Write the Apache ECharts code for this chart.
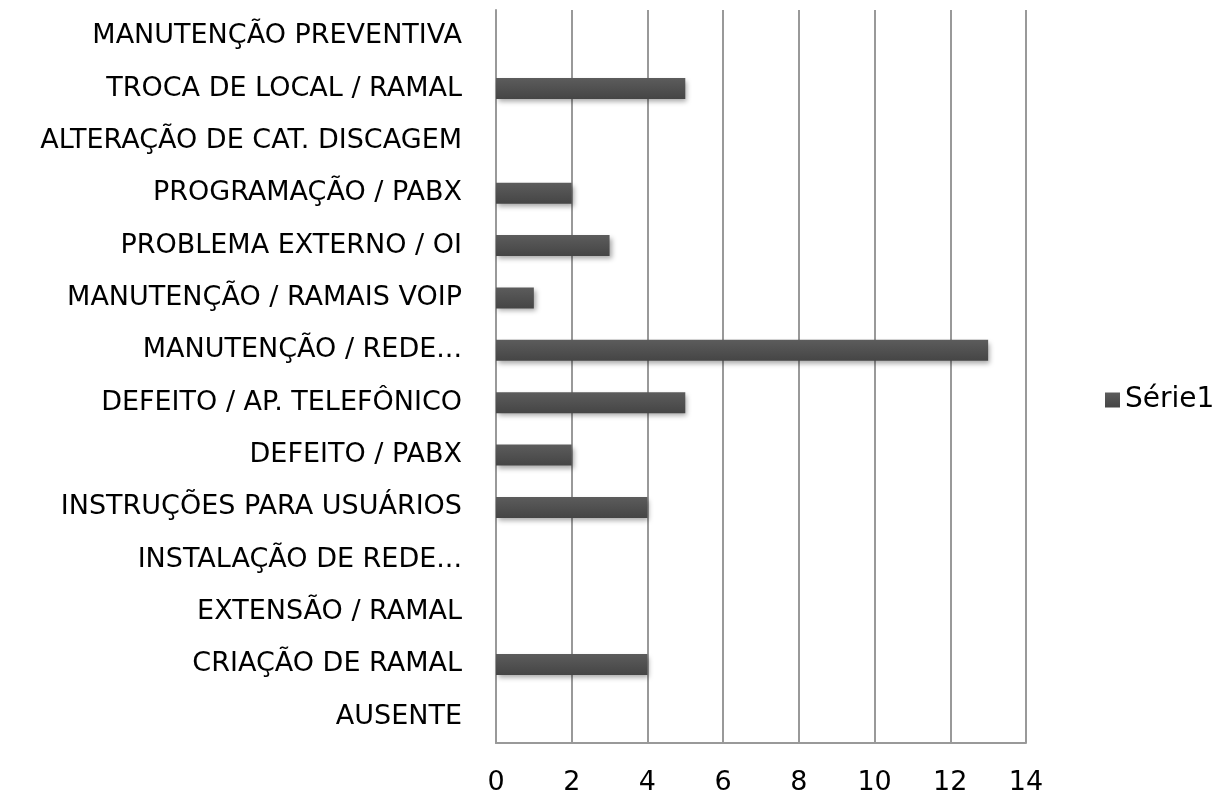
<!DOCTYPE html>
<html>
<head>
<meta charset="utf-8">
<script src="https://cdn.jsdelivr.net/npm/echarts@6/dist/echarts.min.js"></script>
<style>
  html, body { margin: 0; padding: 0; background: #fff; }
  #chart { width: 1226px; height: 798px; }
</style>
</head>
<body>
<div id="chart"></div>
<script>
  // categories bottom -> top, as in the picture
  var categories = [
    'AUSENTE',
    'CRIAÇÃO DE RAMAL',
    'EXTENSÃO / RAMAL',
    'INSTALAÇÃO DE REDE...',
    'INSTRUÇÕES PARA USUÁRIOS',
    'DEFEITO / PABX',
    'DEFEITO / AP. TELEFÔNICO',
    'MANUTENÇÃO / REDE...',
    'MANUTENÇÃO / RAMAIS VOIP',
    'PROBLEMA EXTERNO / OI',
    'PROGRAMAÇÃO / PABX',
    'ALTERAÇÃO DE CAT. DISCAGEM',
    'TROCA DE LOCAL / RAMAL',
    'MANUTENÇÃO PREVENTIVA'
  ];
  var serie1 = [0, 4, 0, 0, 4, 2, 5, 13, 1, 3, 2, 0, 5, 0];
  var seriesName = 'Série1';

  var chart = echarts.init(document.getElementById('chart'));
  var font = '"DejaVu Sans", "Open Sans", sans-serif';
  var barColor = new echarts.graphic.LinearGradient(0, 0, 0, 1, [
    { offset: 0, color: '#5c5c5c' },
    { offset: 1, color: '#454545' }
  ]);

  chart.setOption({
    animation: false,
    textStyle: { fontFamily: font },
    legend: {
      data: [{ name: seriesName, icon: 'rect' }],
      orient: 'vertical',
      left: 1100,
      top: 381,
      itemWidth: 15,
      itemHeight: 15,
      itemGap: 5,
      textStyle: { fontSize: 28, color: '#000', fontFamily: font }
    },
    grid: { left: 496, right: 200, top: 10, bottom: 55, containLabel: false },
    xAxis: {
      type: 'value',
      min: 0,
      max: 14,
      interval: 2,
      axisLine: { show: true, lineStyle: { color: '#999', width: 2 } },
      axisTick: { show: false },
      axisLabel: { fontSize: 27, color: '#000', margin: 26 },
      splitLine: { show: true, lineStyle: { color: '#999', width: 2 } }
    },
    yAxis: {
      type: 'category',
      data: categories,
      axisLine: { show: true, lineStyle: { color: '#999', width: 2 } },
      axisTick: { show: false },
      axisLabel: { fontSize: 27, color: '#000', margin: 34, interval: 0 }
    },
    series: [{
      name: seriesName,
      type: 'bar',
      data: serie1,
      barWidth: 21,
      itemStyle: {
        color: barColor,
        shadowColor: 'rgba(0,0,0,0.35)',
        shadowBlur: 5,
        shadowOffsetX: 2,
        shadowOffsetY: 3
      }
    }]
  });
</script>
</body>
</html>
